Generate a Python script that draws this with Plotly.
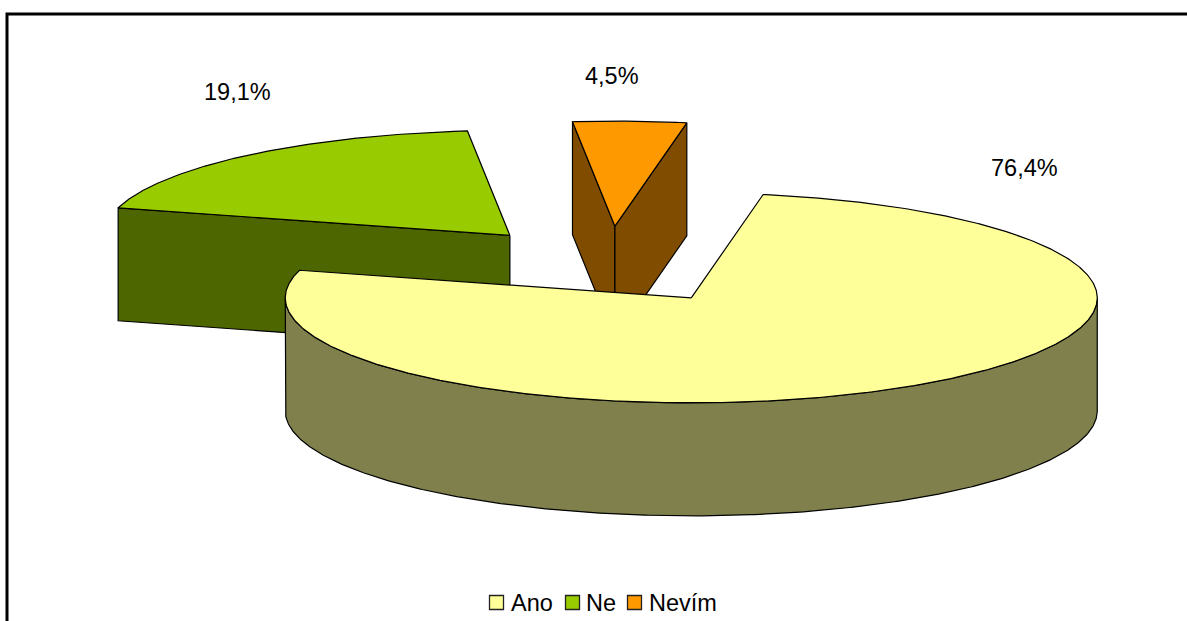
import numpy as np
import plotly.graph_objects as go

# Survey answers and their shares in percent
categories = ["Ano", "Ne", "Nevím"]
shares = [76.4, 19.1, 4.5]
top_colors = ["#FFFF99", "#99CC00", "#FF9900"]
side_colors = ["#80804D", "#4D6600", "#804D00"]

# Projection of the tilted pie onto the drawing area (pixel units)
CX, CY = 609.3, 265.0
RX, RY = 406.0, 105.0
DEPTH = 113.0
EXPLODE_X, EXPLODE_Y = 0.378, 0.37
FIRST_ANGLE = 10.2
FONT = "Liberation Sans, Arial, sans-serif"
FONT_SIZE = 23.5


def rim(center, theta):
    """Screen position on the top rim; theta runs clockwise from twelve o'clock."""
    t = np.radians(theta)
    return center[0] + RX * np.sin(t), center[1] - RY * np.cos(t)


def arc(center, start, end):
    count = max(2, int(abs(end - start) * 2) + 1)
    angles = np.linspace(start, end, count)
    pts = [rim(center, a) for a in angles]
    return [p[0] for p in pts], [p[1] for p in pts]


def polygon(xs, ys, color, name):
    return go.Scatter(
        x=list(xs) + [xs[0]],
        y=list(ys) + [ys[0]],
        mode="lines",
        fill="toself",
        fillcolor=color,
        line=dict(color="black", width=1.2),
        name=name,
        hoverinfo="name",
        showlegend=False,
    )


def slice_traces(start, end, top, side, name):
    mid = (start + end) / 2
    mx, my = rim((0.0, 0.0), mid)
    center = (CX + EXPLODE_X * mx, CY + EXPLODE_Y * my)
    traces = []

    # Flat cut faces that turn towards the viewer
    for angle, visible in ((start, np.sin(np.radians(start)) < 0),
                           (end, np.sin(np.radians(end)) > 0)):
        if visible:
            px, py = rim(center, angle)
            traces.append(polygon(
                [center[0], px, px, center[0]],
                [center[1], py, py + DEPTH, center[1] + DEPTH],
                side, name))

    # Outer wall along the front half of the rim
    for k in range(-1, 3):
        low, high = max(start, 90 + 360 * k), min(end, 270 + 360 * k)
        if low < high:
            xs, ys = arc(center, low, high)
            traces.append(polygon(
                xs + xs[::-1],
                ys + [y + DEPTH for y in ys[::-1]],
                side, name))

    # Top face
    xs, ys = arc(center, start, end)
    traces.append(polygon([center[0]] + xs, [center[1]] + ys, top, name))
    return traces


# Sweep angles of each slice
sweeps = [s / sum(shares) * 360 for s in shares]
starts = [FIRST_ANGLE + sum(sweeps[:i]) for i in range(len(sweeps))]
ends = [a + b for a, b in zip(starts, sweeps)]

fig = go.Figure()

# Back slices first, the large front slice last
for i in (1, 2, 0):
    for trace in slice_traces(starts[i], ends[i], top_colors[i], side_colors[i], categories[i]):
        fig.add_trace(trace)

# Legend row along the bottom of the frame
swatch_x = [496.5, 572.5, 634.5]
legend_text_x = [510.5, 586, 649]
legend_y = 602.5
fig.add_trace(go.Scatter(
    x=swatch_x,
    y=[legend_y] * 3,
    mode="markers",
    marker=dict(symbol="square", size=14, color=top_colors,
                line=dict(color="#222222", width=1.3)),
    text=categories,
    hoverinfo="text",
    showlegend=False,
))
for x, name in zip(legend_text_x, categories):
    fig.add_annotation(
        x=x, y=legend_y, xref="x", yref="y",
        text=name, showarrow=False, xanchor="left", xshift=-2,
        font=dict(family=FONT, size=FONT_SIZE, color="black"),
    )

# Percentage labels above the slices
label_x = [1024, 237.5, 612]
label_y = [168, 92, 76]
for x, y, value in zip(label_x, label_y, shares):
    fig.add_annotation(
        x=x, y=y, xref="x", yref="y",
        text=f"{value:.1f}".replace(".", ",") + "%",
        showarrow=False,
        font=dict(family=FONT, size=FONT_SIZE, color="black"),
    )

# Chart frame: its right and bottom sides run past the visible area
fig.add_shape(type="rect", x0=7, y0=14, x1=1400, y1=800, xref="x", yref="y",
              line=dict(color="black", width=3), layer="below")

fig.update_layout(
    width=1187,
    height=621,
    margin=dict(l=0, r=0, t=0, b=0),
    paper_bgcolor="white",
    plot_bgcolor="white",
    showlegend=False,
    xaxis=dict(range=[0, 1187], visible=False, fixedrange=True),
    yaxis=dict(range=[621, 0], visible=False, fixedrange=True),
)

fig.write_html("out.html")
